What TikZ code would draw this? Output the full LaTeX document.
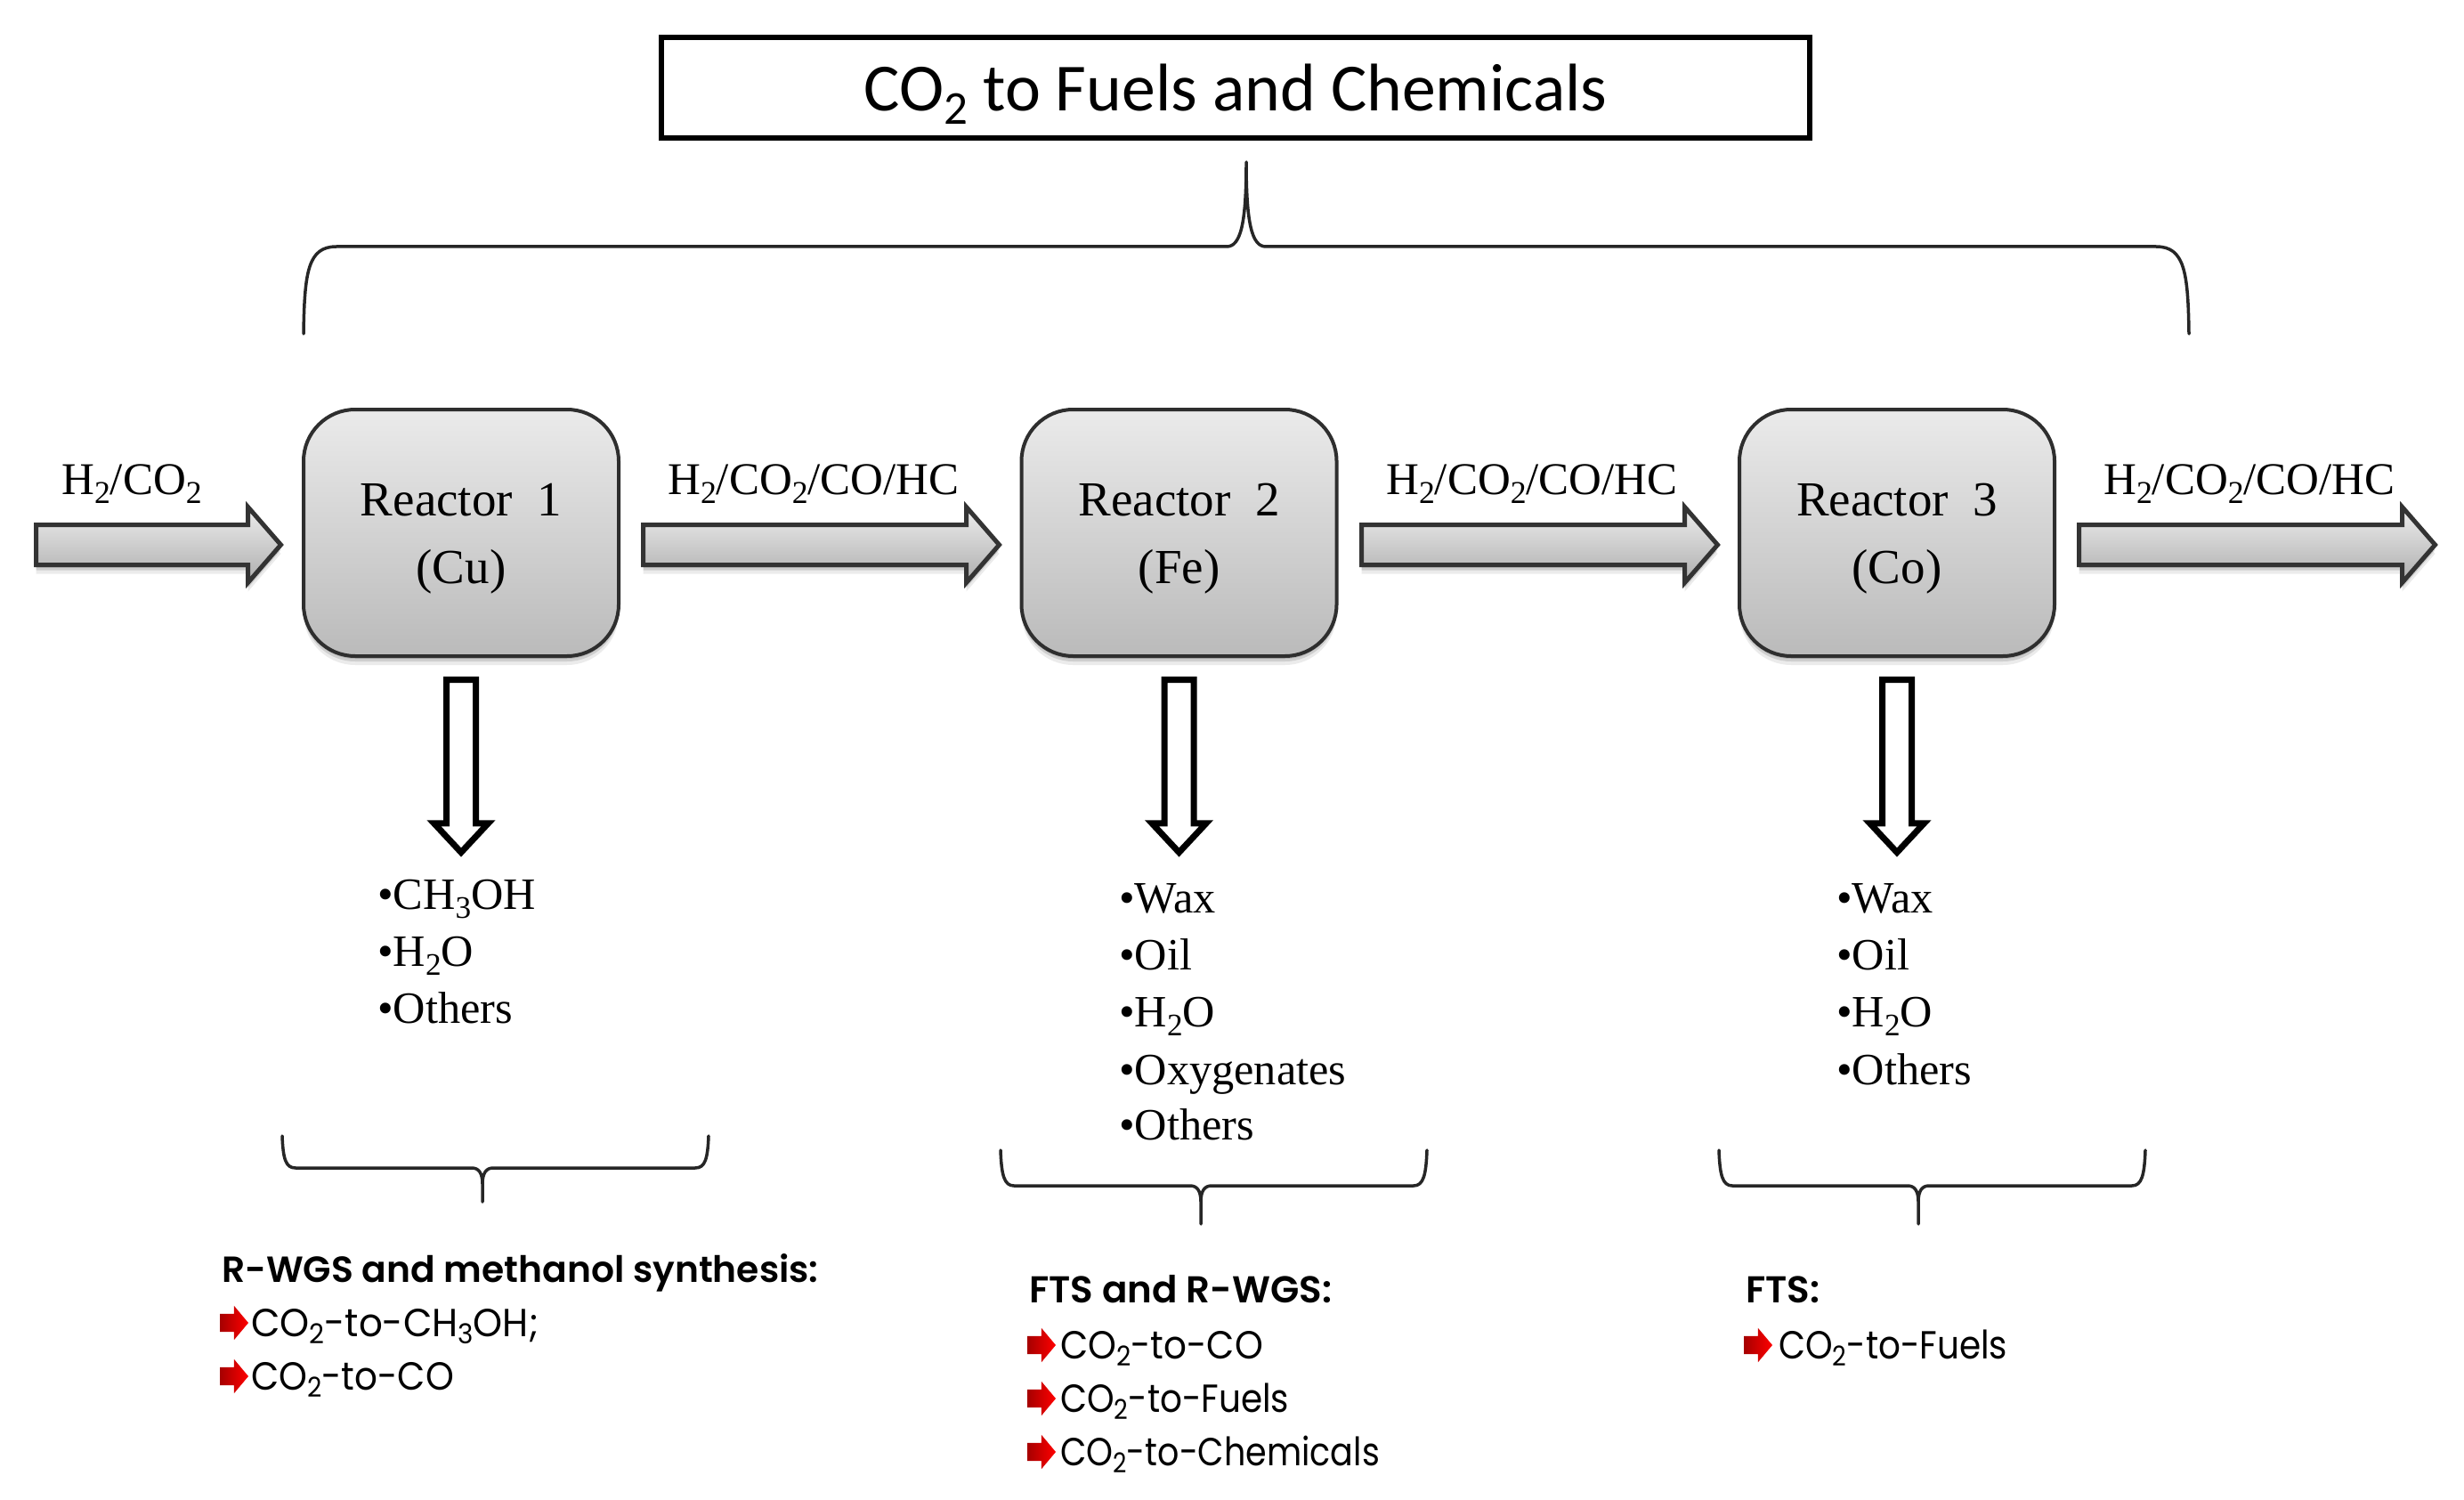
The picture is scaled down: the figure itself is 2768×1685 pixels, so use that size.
\documentclass[tikz,border=0pt]{standalone}
\usepackage{fontspec}
\setmainfont{Liberation Serif}
\newfontfamily\titlefont{Carlito}
\newfontfamily\geofont{Poppins}[FakeStretch=0.92]
\newfontfamily\geowide{Poppins}[FakeStretch=0.955]
\newfontfamily\geomid{Poppins}[FakeStretch=0.885]
\newfontfamily\geonarrow{Poppins}[FakeStretch=0.865]
\newfontfamily\geohead{Poppins SemiBold}
\usetikzlibrary{shapes.arrows,shadows}
\newcommand\lowtxt[1]{\raisebox{-.2em}{\scalebox{.7}{#1}}}
\tikzset{
  softshadow/.style={
    general shadow={shadow yshift=-3pt,opacity=.15,fill=black},
    general shadow={shadow yshift=-6pt,opacity=.12,fill=black},
    general shadow={shadow yshift=-10pt,opacity=.08,fill=black}},
  reactor/.style={rounded corners=58pt,minimum width=354pt,minimum height=277pt,draw=black!82,line width=4pt,
    top color=black!8,bottom color=black!27,softshadow,inner sep=0pt,align=center,
    font=\fontsize{55}{76}\selectfont},
  flow/.style={single arrow,anchor=tail,draw=black!80,line width=5pt,top color=black!7,bottom color=black!32,
    inner xsep=0pt,inner ysep=20pt,outer sep=0pt,minimum width=82pt,single arrow head extend=20pt,
    single arrow tip angle=98,softshadow},
  output/.style={single arrow,anchor=tail,draw=black,line width=7pt,fill=white,rotate=-90,minimum height=194pt,
    inner xsep=0pt,inner ysep=13pt,outer sep=0pt,minimum width=56pt,single arrow head extend=14pt,
    single arrow tip angle=86},
  tick/.style={single arrow,anchor=tail,draw=none,left color=red!65!black,right color=red,minimum height=32pt,
    inner xsep=0pt,inner ysep=10pt,outer sep=0pt,minimum width=38pt,single arrow head extend=9pt,
    single arrow tip angle=100},
  brace/.style={draw=black!85,line width=3.5pt,line cap=round,line join=round},
  stream/.style={anchor=base west,inner sep=0pt,font=\fontsize{51}{60}\selectfont},
  item/.style={anchor=base west,inner sep=0pt,font=\fontsize{50.3}{60}\selectfont},
  headline/.style={anchor=base west,inner sep=0pt,font=\geohead\fontsize{42}{50}\selectfont},
  route/.style={anchor=base west,inner sep=0pt,font=\geofont\fontsize{44}{52}\selectfont}
}
\begin{document}
\begin{tikzpicture}[x=1pt,y=-1pt]
\path[use as bounding box,fill=white] (0,0) rectangle (2768,1685);
% title
\node[draw=black,line width=6pt,minimum width=1290pt,minimum height=113pt,inner sep=0pt,
  font=\titlefont\fontsize{75.7}{80}\selectfont] (title) at (1388,98.5) {\raisebox{-26pt}[0pt][0pt]{CO\lowtxt{2} to Fuels and Chemicals}};
% big brace
\draw[brace] (341,375) .. controls (342,305) and (346,277) .. (378,277) -- (1378,277)
  .. controls (1394,277) and (1400,250) .. (1400,182) .. controls (1400,250) and (1406,277) .. (1422,277)
  -- (2422,277) .. controls (2454,277) and (2458,305) .. (2459,375);
% reactors
\node[reactor] (r1) at (518,598.5) {\rule{0pt}{49pt}Reactor\ \ 1\\(Cu)};
\node[reactor] (r2) at (1324.5,598.5) {\rule{0pt}{49pt}Reactor\ \ 2\\(Fe)};
\node[reactor] (r3) at (2131,598.5) {\rule{0pt}{49pt}Reactor\ \ 3\\(Co)};
% flow arrows
\node[flow,minimum height=275pt] (f0) at (40.5,612) {};
\node[flow,minimum height=400pt] (f1) at (722.5,612) {};
\node[flow,minimum height=400pt] (f2) at (1529.5,612) {};
\node[flow,minimum height=400pt] (f3) at (2335.5,612) {};
% flow labels
\node[stream] (l0) at (69,555) {H\lowtxt{2}/CO\lowtxt{2}};
\node[stream] (l1) at (750,555) {H\lowtxt{2}/CO\lowtxt{2}/CO/HC};
\node[stream] (l2) at (1557,555) {H\lowtxt{2}/CO\lowtxt{2}/CO/HC};
\node[stream] (l3) at (2363,555) {H\lowtxt{2}/CO\lowtxt{2}/CO/HC};
% outputs
\node[output] (o1) at (518,763.5) {};
\node[output] (o2) at (1324.5,763.5) {};
\node[output] (o3) at (2131,763.5) {};
% lists
\node[item] (a1) at (424,1021) {•CH\lowtxt{3}OH};
\node[item] (a2) at (424,1085) {•H\lowtxt{2}O};
\node[item] (a3) at (424,1149) {•Others};
\node[item] (b1) at (1257,1025) {•Wax};
\node[item] (b2) at (1257,1089) {•Oil};
\node[item] (b3) at (1257,1153) {•H\lowtxt{2}O};
\node[item] (b4) at (1257,1218) {•Oxygenates};
\node[item] (b5) at (1257,1280) {•Others};
\node[item] (c1) at (2063,1025) {•Wax};
\node[item] (c2) at (2063,1089) {•Oil};
\node[item] (c3) at (2063,1153) {•H\lowtxt{2}O};
\node[item] (c4) at (2063,1218) {•Others};
% small braces
\draw[brace] (317,1276) .. controls (318,1302) and (321,1312) .. (332,1312) -- (530,1312)
  .. controls (538,1312) and (542,1318) .. (542,1330) -- (542,1350) (542,1330)
  .. controls (542,1318) and (546,1312) .. (554,1312) -- (781,1312) .. controls (792,1312) and (795,1302) .. (796,1276);
\draw[brace] (1124,1292) .. controls (1125,1320) and (1128,1332) .. (1139,1332) -- (1337,1332)
  .. controls (1345,1332) and (1349,1338) .. (1349,1350) -- (1349,1375) (1349,1350)
  .. controls (1349,1338) and (1353,1332) .. (1361,1332) -- (1588,1332) .. controls (1599,1332) and (1602,1320) .. (1603,1292);
\draw[brace] (1931,1292) .. controls (1932,1320) and (1935,1332) .. (1946,1332) -- (2143,1332)
  .. controls (2151,1332) and (2155,1338) .. (2155,1350) -- (2155,1375) (2155,1350)
  .. controls (2155,1338) and (2159,1332) .. (2167,1332) -- (2395,1332) .. controls (2406,1332) and (2409,1320) .. (2410,1292);
% block 1
\node[headline,font=\geohead\fontsize{40.8}{50}\selectfont] (h1) at (249,1440) {R-WGS and methanol synthesis:};
\node[tick] (t11) at (247,1486) {};
\node[route,font=\geowide\fontsize{44}{52}\selectfont] (p11) at (282,1501) {CO\lowtxt{2}-to-CH\lowtxt{3}OH;};
\node[tick] (t12) at (247,1546) {};
\node[route] (p12) at (282,1561) {CO\lowtxt{2}-to-CO};
% block 2
\node[headline] (h2) at (1156,1463) {FTS and R-WGS:};
\node[tick] (t21) at (1154,1511) {};
\node[route] (p21) at (1191,1526) {CO\lowtxt{2}-to-CO};
\node[tick] (t22) at (1154,1571) {};
\node[route,font=\geomid\fontsize{44}{52}\selectfont] (p22) at (1191,1586) {CO\lowtxt{2}-to-Fuels};
\node[tick] (t23) at (1154,1631) {};
\node[route,font=\geonarrow\fontsize{44}{52}\selectfont] (p23) at (1191,1646) {CO\lowtxt{2}-to-Chemicals};
% block 3
\node[headline] (h3) at (1961,1463) {FTS:};
\node[tick] (t31) at (1959,1511) {};
\node[route,font=\geomid\fontsize{44}{52}\selectfont] (p31) at (1998,1526) {CO\lowtxt{2}-to-Fuels};
\end{tikzpicture}
\end{document}
